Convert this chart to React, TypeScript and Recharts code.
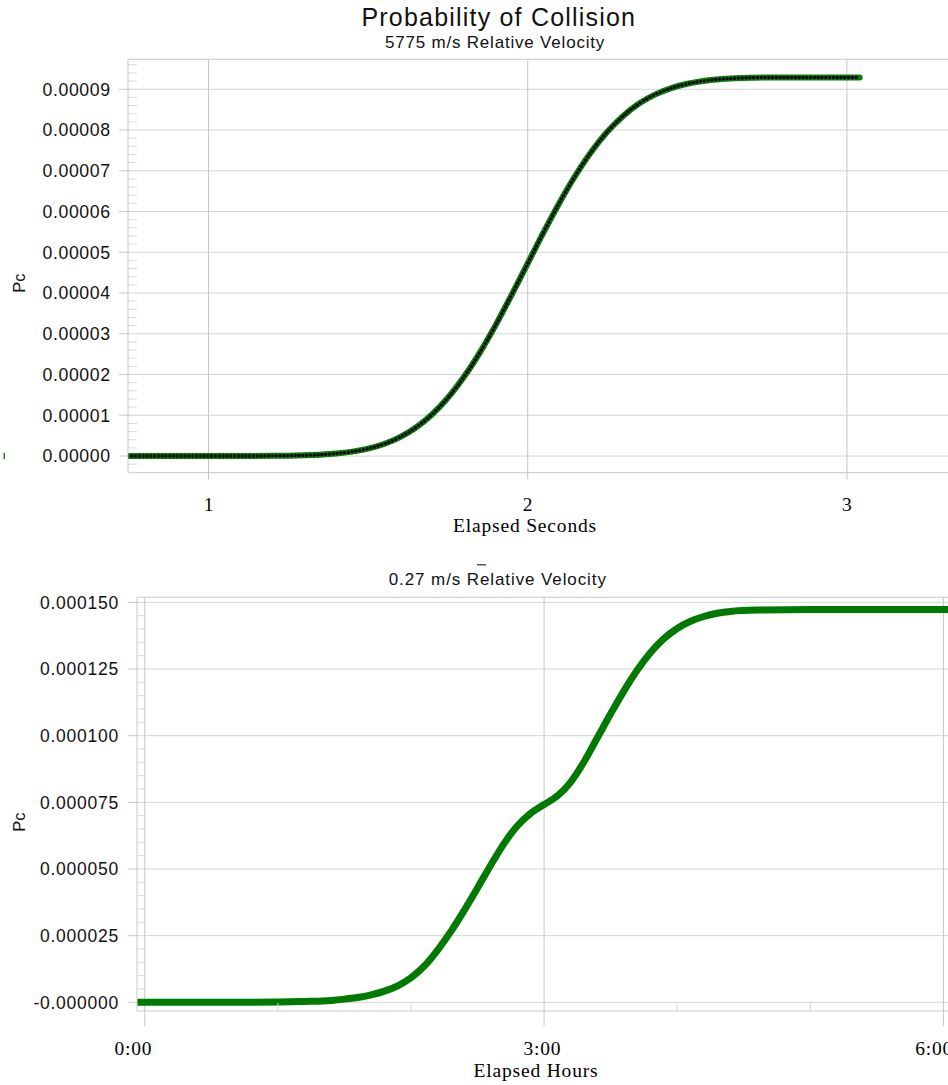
import React from "react";
import { LineChart, Line, XAxis, YAxis, ReferenceLine } from "recharts";

// ---------- Top chart: 5775 m/s ----------
const topSeconds = [
  0.748, 0.9, 1.0, 1.1, 1.2, 1.25, 1.3, 1.35, 1.4, 1.45, 1.5, 1.55, 1.6, 1.65,
  1.7, 1.75, 1.8, 1.85, 1.9, 1.95, 2.0, 2.05, 2.1, 2.15, 2.2, 2.25, 2.3, 2.35,
  2.4, 2.45, 2.5, 2.55, 2.6, 2.65, 2.7, 2.75, 2.8, 2.9, 3.04,
];
const topPc = [
  0, 0, 0, 1e-8, 4e-8, 9e-8, 1.8e-7, 3.4e-7, 6.1e-7, 1.08e-6, 1.82e-6, 2.96e-6,
  4.64e-6, 7.0e-6, 1.018e-5, 1.429e-5, 1.937e-5, 2.538e-5, 3.219e-5, 3.958e-5,
  4.727e-5, 5.493e-5, 6.223e-5, 6.89e-5, 7.473e-5, 7.961e-5, 8.352e-5, 8.654e-5,
  8.875e-5, 9.03e-5, 9.135e-5, 9.203e-5, 9.246e-5, 9.27e-5, 9.283e-5, 9.288e-5,
  9.29e-5, 9.29e-5, 9.29e-5,
];
const topXTicks = [1, 2, 3];
const topXTickLabels = ["1", "2", "3"];
const topYMajor = [0, 0.00001, 0.00002, 0.00003, 0.00004, 0.00005, 0.00006, 0.00007, 0.00008, 0.00009];
const topYTickLabels = ["0.00000", "0.00001", "0.00002", "0.00003", "0.00004", "0.00005", "0.00006", "0.00007", "0.00008", "0.00009"];
const topYMinorStep = 0.000002;
const topXDomain: [number, number] = [0.7478, 3.3543];
const topYDomain: [number, number] = [-0.00000409, 0.00009735];

// ---------- Bottom chart: 0.27 m/s ----------
const bottomHours = [
  -0.058, 0.5, 1.0, 1.2, 1.4, 1.5, 1.6, 1.7, 1.8, 1.9, 2.0, 2.1, 2.2, 2.3, 2.4,
  2.5, 2.6, 2.7, 2.8, 2.9, 3.0, 3.1, 3.2, 3.3, 3.4, 3.5, 3.6, 3.7, 3.8, 3.9,
  4.0, 4.1, 4.2, 4.3, 4.4, 4.6, 5.0, 6.27,
];
const bottomPc = [
  0, 0, 1e-7, 3e-7, 7e-7, 1.2e-6, 1.8e-6, 2.8e-6, 4.2e-6, 6.2e-6, 9.2e-6,
  1.36e-5, 1.96e-5, 2.66e-5, 3.45e-5, 4.29e-5, 5.15e-5, 5.96e-5, 6.62e-5,
  7.09e-5, 7.42e-5, 7.74e-5, 8.26e-5, 9.02e-5, 9.92e-5, 1.082e-4, 1.168e-4,
  1.246e-4, 1.312e-4, 1.364e-4, 1.402e-4, 1.429e-4, 1.447e-4, 1.459e-4,
  1.466e-4, 1.471e-4, 1.473e-4, 1.473e-4,
];
const bottomXMajor = [0, 3, 6];
const bottomXTickLabels = ["0:00", "3:00", "6:00"];
const bottomXMinor = [1, 2, 4, 5];
const bottomYMajor = [0, 0.000025, 0.00005, 0.000075, 0.0001, 0.000125, 0.00015];
const bottomYTickLabels = ["-0.000000", "0.000025", "0.000050", "0.000075", "0.000100", "0.000125", "0.000150"];
const bottomYMinorStep = 0.000005;
const bottomXDomain: [number, number] = [-0.0586, 6.275];
const bottomYDomain: [number, number] = [-0.00000326, 0.0001519];

// ---------- styles ----------
const SANS = "'Liberation Sans', Arial, Helvetica, sans-serif";
const SERIF = "'Liberation Serif', 'Times New Roman', serif";
const GRID_H = "#d4d4d4";
const GRID_V = "#c6c6c6";
const AXIS = "#c8c8c8";
const MINOR = "#d8d8d8";
const bottomXLabelShift = [-11.4, -1.6, -9.3];

const topData = topSeconds.map((t, i) => ({ t, pc: topPc[i] }));
const bottomData = bottomHours.map((h, i) => ({ h, pc: bottomPc[i] }));

function stepTicks(min: number, max: number, step: number): number[] {
  const out: number[] = [];
  const n0 = Math.ceil(min / step - 1e-9);
  const n1 = Math.floor(max / step + 1e-9);
  for (let i = n0; i <= n1; i++) out.push(+(i * step).toPrecision(10));
  return out;
}
const findMajor = (v: number, majors: number[]) =>
  majors.findIndex((m) => Math.abs(m - v) < 1e-10);

const topYTicks = stepTicks(topYDomain[0], topYDomain[1], topYMinorStep);
const bottomYTicks = stepTicks(bottomYDomain[0], bottomYDomain[1], bottomYMinorStep);
const bottomXTicks = [...bottomXMajor, ...bottomXMinor].sort((a, b) => a - b);

const makeYTick = (majors: number[], labels: string[], labelEnd: number, fs: number, ls: number) =>
  (props: any) => {
    const { x, y, payload } = props;
    const idx = findMajor(payload.value, majors);
    if (idx >= 0) {
      return (
        <g>
          <line x1={x - 9} x2={x} y1={y} y2={y} stroke={AXIS} strokeWidth={1} />
          <text
            x={labelEnd}
            y={y + fs * 0.358}
            textAnchor="end"
            fontFamily={SANS}
            fontSize={fs}
            letterSpacing={ls}
            fill="#111"
          >
            {labels[idx]}
          </text>
        </g>
      );
    }
    return <line x1={x} x2={x + 9} y1={y} y2={y} stroke={MINOR} strokeWidth={1} />;
  };

const TopXTick = (props: any) => {
  const { x, y, payload } = props;
  const idx = topXTicks.indexOf(payload.value);
  return (
    <g>
      <line x1={x} x2={x} y1={y} y2={y + 7} stroke={GRID_V} strokeWidth={1} />
      <text x={x} y={y + 38} textAnchor="middle" fontFamily={SERIF} fontSize={19.5} fill="#000">
        {topXTickLabels[idx]}
      </text>
    </g>
  );
};

const BottomXTick = (props: any) => {
  const { x, y, payload } = props;
  const idx = bottomXMajor.indexOf(payload.value);
  if (idx >= 0) {
    return (
      <g>
        <line x1={x} x2={x} y1={y} y2={y + 15} stroke={GRID_V} strokeWidth={1} />
        <text
          x={x + bottomXLabelShift[idx]}
          y={y + 44}
          textAnchor="middle"
          fontFamily={SERIF}
          fontSize={19.5}
          letterSpacing={0.8}
          fill="#000"
        >
          {bottomXTickLabels[idx]}
        </text>
      </g>
    );
  }
  return <line x1={x} x2={x} y1={y - 8} y2={y} stroke={MINOR} strokeWidth={1} />;
};

const TopYTick = makeYTick(topYMajor, topYTickLabels, 110.7, 17.7, 0.6);
const BottomYTick = makeYTick(bottomYMajor, bottomYTickLabels, 119, 17.5, 0.75);

function TopChart() {
  return (
    <LineChart width={960} height={540} data={topData} margin={{ top: 59.3, right: 0, bottom: 7.3, left: 0 }}>
      <XAxis
        dataKey="t"
        type="number"
        domain={topXDomain}
        allowDataOverflow
        ticks={topXTicks}
        interval={0}
        tickSize={0}
        tickMargin={0}
        tickLine={false}
        tick={TopXTick}
        axisLine={{ stroke: AXIS }}
        height={60}
      />
      <YAxis
        type="number"
        domain={topYDomain}
        allowDataOverflow
        ticks={topYTicks}
        interval={0}
        tickSize={0}
        tickMargin={0}
        tickLine={false}
        tick={TopYTick}
        axisLine={{ stroke: AXIS }}
        width={128}
      />
      {topYMajor.map((v) => (
        <ReferenceLine key={"h" + v} y={v} stroke={GRID_H} strokeWidth={1} />
      ))}
      <ReferenceLine y={topYDomain[1]} stroke={AXIS} strokeWidth={1} />
      {topXTicks.map((v) => (
        <ReferenceLine key={"v" + v} x={v} stroke={GRID_V} strokeWidth={1} />
      ))}
      <Line
        dataKey="pc"
        type="monotone"
        stroke="#0b7a0b"
        strokeWidth={6}
        strokeLinecap="round"
        dot={false}
        activeDot={false}
        isAnimationActive={false}
      />
      <Line
        dataKey="pc"
        type="monotone"
        stroke="#000000"
        strokeWidth={3.4}
        strokeDasharray="0 3.8"
        strokeLinecap="round"
        dot={false}
        activeDot={false}
        isAnimationActive={false}
      />
    </LineChart>
  );
}

function BottomChart() {
  return (
    <LineChart width={980} height={545} data={bottomData} margin={{ top: 57.3, right: 0, bottom: 4, left: 0 }}>
      <XAxis
        dataKey="h"
        type="number"
        domain={bottomXDomain}
        allowDataOverflow
        ticks={bottomXTicks}
        interval={0}
        tickSize={0}
        tickMargin={0}
        tickLine={false}
        tick={BottomXTick}
        axisLine={{ stroke: AXIS }}
        height={70}
      />
      <YAxis
        type="number"
        domain={bottomYDomain}
        allowDataOverflow
        ticks={bottomYTicks}
        interval={0}
        tickSize={0}
        tickMargin={0}
        tickLine={false}
        tick={BottomYTick}
        axisLine={{ stroke: AXIS }}
        width={137}
      />
      {bottomYMajor.map((v) => (
        <ReferenceLine key={"h" + v} y={v} stroke={GRID_H} strokeWidth={1} />
      ))}
      <ReferenceLine y={bottomYDomain[1]} stroke={AXIS} strokeWidth={1} />
      {bottomXMajor.map((v) => (
        <ReferenceLine key={"v" + v} x={v} stroke={GRID_V} strokeWidth={1} />
      ))}
      <Line
        dataKey="pc"
        type="monotone"
        stroke="#007a00"
        strokeWidth={7}
        dot={false}
        activeDot={false}
        isAnimationActive={false}
      />
    </LineChart>
  );
}

export default function App() {
  return (
    <div
      style={{
        position: "absolute",
        left: 0,
        top: 0,
        width: 948,
        height: 1085,
        overflow: "hidden",
        background: "#ffffff",
      }}
    >
      <div style={{ position: "absolute", left: 0, top: 0 }}>
        <TopChart />
      </div>
      <div style={{ position: "absolute", left: 0, top: 540 }}>
        <BottomChart />
      </div>
      <svg
        width={948}
        height={1085}
        style={{ position: "absolute", left: 0, top: 0, pointerEvents: "none" }}
      >
        <text x={498.8} y={25.5} textAnchor="middle" fontFamily={SANS} fontSize={25} letterSpacing={1.2} fill="#111">
          Probability of Collision
        </text>
        <text x={495} y={47.5} textAnchor="middle" fontFamily={SANS} fontSize={17} letterSpacing={0.8} fill="#111">
          5775 m/s Relative Velocity
        </text>
        <text x={525} y={531.7} textAnchor="middle" fontFamily={SERIF} fontSize={19.5} letterSpacing={0.82} fill="#000">
          Elapsed Seconds
        </text>
        <text x={25} y={283} transform="rotate(-90 25 283)" textAnchor="middle" fontFamily={SANS} fontSize={16.5} fill="#111">
          Pc
        </text>
        <rect x={3.5} y={453} width={1.5} height={6} fill="#1a8a1a" />

        <rect x={477} y={564} width={9} height={1.5} fill="#555" />
        <text x={497.8} y={585} textAnchor="middle" fontFamily={SANS} fontSize={17} letterSpacing={0.9} fill="#111">
          0.27 m/s Relative Velocity
        </text>
        <text x={536} y={1076.7} textAnchor="middle" fontFamily={SERIF} fontSize={19.5} letterSpacing={0.82} fill="#000">
          Elapsed Hours
        </text>
        <text x={25} y={822} transform="rotate(-90 25 822)" textAnchor="middle" fontFamily={SANS} fontSize={16.5} fill="#111">
          Pc
        </text>
      </svg>
    </div>
  );
}
